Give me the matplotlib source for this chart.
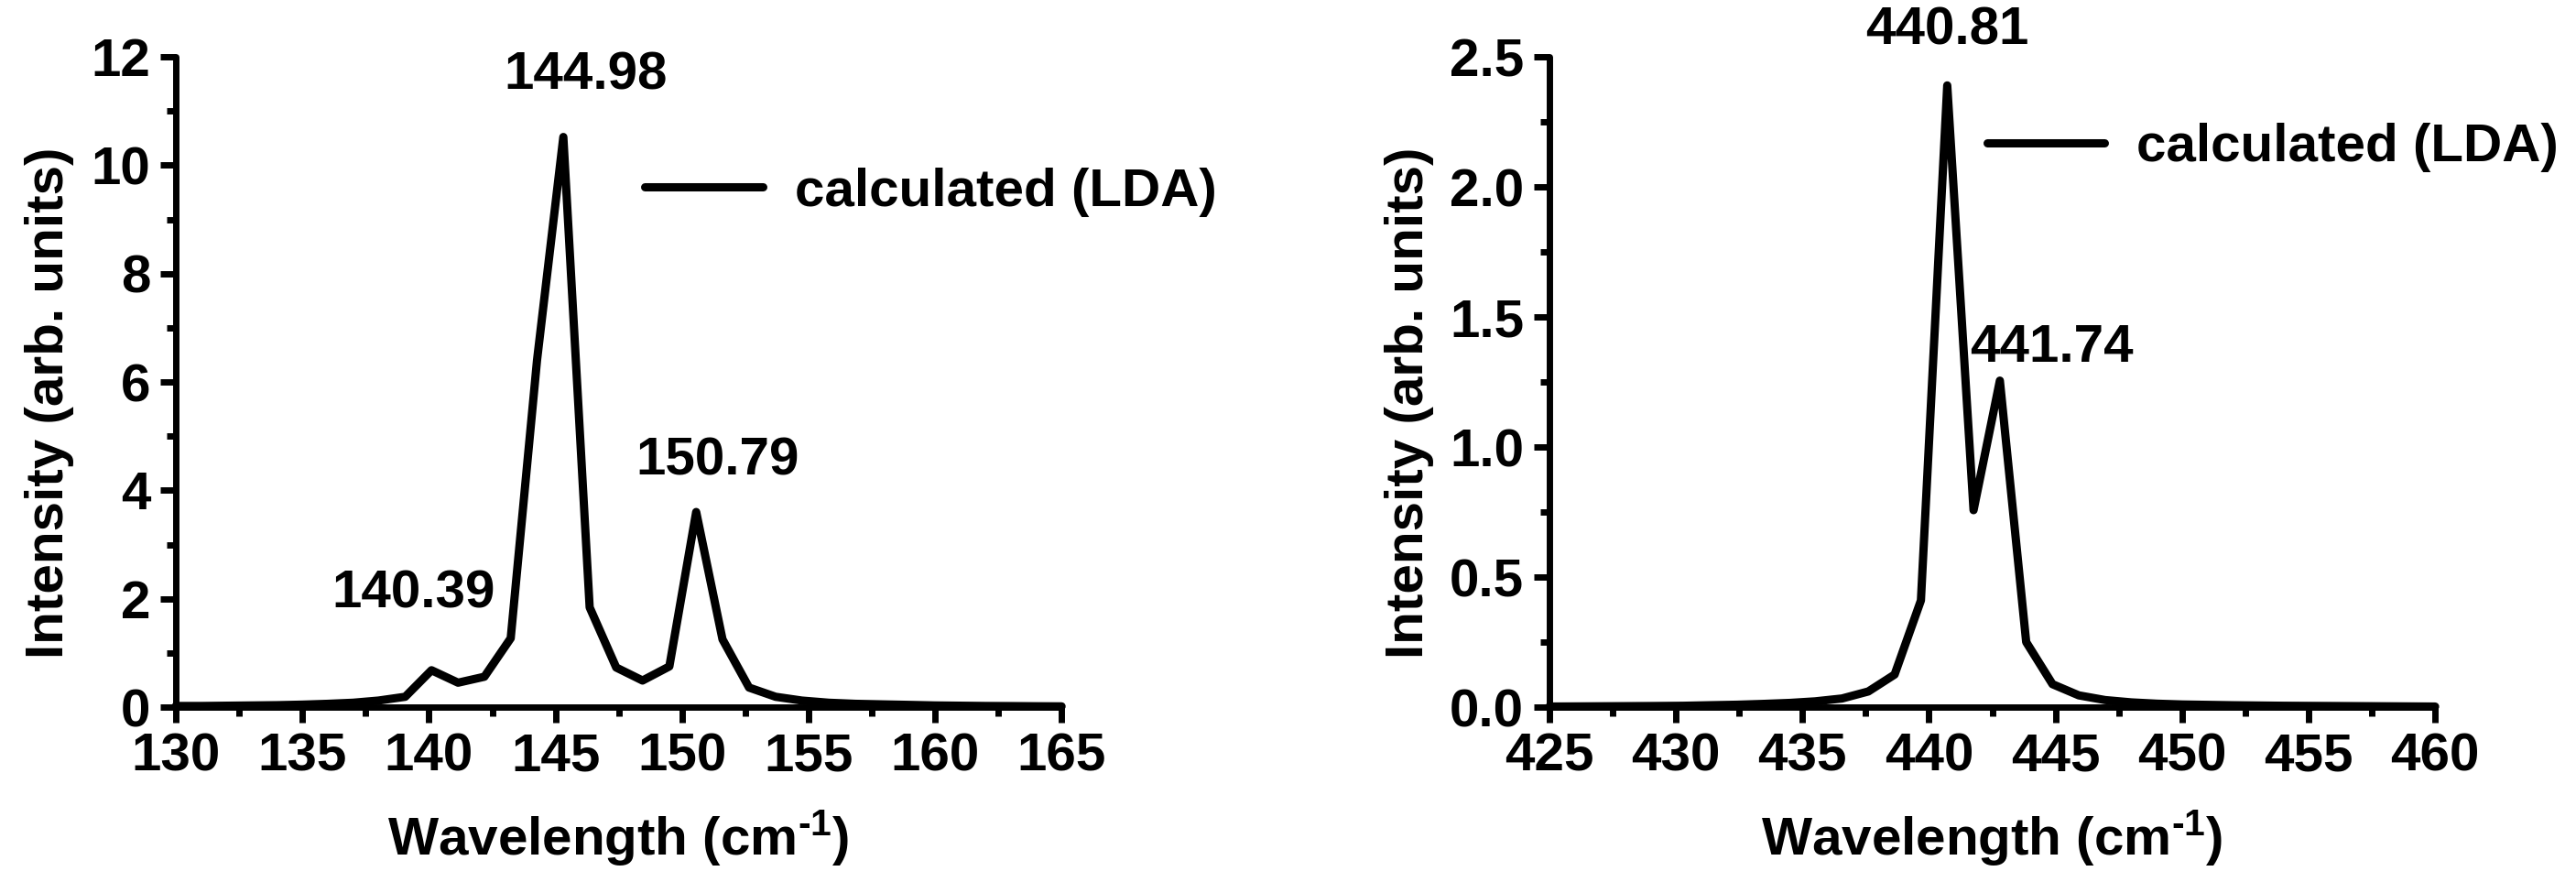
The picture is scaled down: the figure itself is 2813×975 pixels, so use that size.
import matplotlib
matplotlib.use('Agg')
import matplotlib.pyplot as plt
from matplotlib.ticker import MultipleLocator, FormatStrFormatter

plt.rcParams['font.family'] = ['Liberation Sans', 'DejaVu Sans']
plt.rcParams['font.weight'] = 'bold'
plt.rcParams['mathtext.fontset'] = 'custom'
plt.rcParams['mathtext.rm'] = 'Liberation Sans:bold'
plt.rcParams['mathtext.it'] = 'Liberation Sans:bold'
plt.rcParams['mathtext.bf'] = 'Liberation Sans:bold'
plt.rcParams['mathtext.default'] = 'rm'

# left panel: low-frequency modes
x_low = [130.0, 131.0, 132.0, 133.0, 134.0, 135.0, 136.0, 137.0, 138.0, 139.06,
         140.1, 141.15, 142.19, 143.23, 144.27, 145.31, 146.35, 147.4, 148.44,
         149.5, 150.56, 151.6, 152.65, 153.7, 154.74, 155.8, 156.85, 157.9,
         159.0, 160.0, 161.0, 162.0, 163.0, 164.0, 165.0]
y_low = [0.02, 0.02, 0.025, 0.03, 0.035, 0.045, 0.06, 0.08, 0.12, 0.19,
         0.68, 0.45, 0.56, 1.27, 6.4, 10.52, 1.84, 0.73, 0.49,
         0.75, 3.6, 1.25, 0.36, 0.19, 0.12, 0.08, 0.06, 0.05,
         0.04, 0.03, 0.025, 0.02, 0.018, 0.015, 0.013]
peaks_low = ['140.39', '144.98', '150.79']
peak_pos_low = [(139.4, 2.08), (146.2, 11.65), (151.41, 4.53)]

# right panel: high-frequency modes
x_high = [425.0, 427.0, 429.0, 430.3, 431.3, 432.4, 433.4, 434.5, 435.5, 436.56,
          437.6, 438.64, 439.68, 440.72, 441.76, 442.8, 443.84, 444.88, 445.92,
          446.96, 448.0, 449.0, 450.0, 452.0, 454.0, 456.0, 458.0, 460.0]
y_high = [0.002, 0.003, 0.004, 0.005, 0.007, 0.009, 0.012, 0.016, 0.022, 0.033,
          0.06, 0.125, 0.41, 2.39, 0.757, 1.255, 0.25, 0.088, 0.045,
          0.027, 0.018, 0.013, 0.01, 0.007, 0.005, 0.004, 0.003, 0.002]
peaks_high = ['440.81', '441.74']
peak_pos_high = [(440.7, 2.6), (444.84, 1.38)]

fig = plt.figure(figsize=(28.13, 9.75), dpi=100)
ax1 = fig.add_axes([0.0683, 0.2082, 0.3438, 0.7282])
ax2 = fig.add_axes([0.6015, 0.2082, 0.3438, 0.7282])

panels = [
    (ax1, x_low, y_low, peaks_low, peak_pos_low, (130, 165), (0, 12), 2, 1, (0.5295, 0.792)),
    (ax2, x_high, y_high, peaks_high, peak_pos_high, (425, 460), (0, 2.5), 0.5, 0.25, (0.494, 0.8606)),
]

fs = 42
for ax, xs, ys, labels, pos, xlim, ylim, ymaj, ymin, leg_xy in panels:
    ax.plot(xs, ys, color='black', lw=6.5, solid_joinstyle='round', solid_capstyle='round',
            label='calculated (LDA)', clip_on=False, zorder=3)
    ax.set_xlim(*xlim)
    ax.set_ylim(*ylim)
    ax.xaxis.set_major_locator(MultipleLocator(5))
    ax.xaxis.set_minor_locator(MultipleLocator(2.5))
    ax.yaxis.set_major_locator(MultipleLocator(ymaj))
    ax.yaxis.set_minor_locator(MultipleLocator(ymin))
    if ymaj < 1:
        ax.yaxis.set_major_formatter(FormatStrFormatter('%.1f'))
    for s in ['top', 'right']:
        ax.spines[s].set_visible(False)
    for s in ['left', 'bottom']:
        ax.spines[s].set_linewidth(5)
        ax.spines[s].set_capstyle('round')
    ax.tick_params(which='major', direction='out', length=12, width=5, labelsize=fs, pad=8)
    ax.tick_params(which='minor', direction='out', length=7, width=5)
    for t in ax.get_xticklabels() + ax.get_yticklabels():
        t.set_fontweight('bold')

    for txt, (px, py) in zip(labels, pos):
        ax.text(px, py, txt, fontsize=fs, fontweight='bold', ha='center', va='center')

    leg = ax.legend(loc='center left', bbox_to_anchor=leg_xy, frameon=False,
                    handlelength=2.2, handletextpad=0.6,
                    borderpad=0, borderaxespad=0, prop={'weight': 'bold', 'size': fs})
    for h in leg.get_lines():
        h.set_linewidth(6.5)

    ax.set_xlabel('Wavelength (cm$^{\\text{-1}}$)', fontsize=fs, fontweight='bold')
    ax.set_ylabel('Intensity (arb. units)', fontsize=fs, fontweight='bold')
    ax.xaxis.set_label_coords(0.5, -0.155)

ax1.yaxis.set_label_coords(-0.115, 0.468)
ax2.yaxis.set_label_coords(-0.130, 0.468)

fig.savefig('out.png', dpi=100)
